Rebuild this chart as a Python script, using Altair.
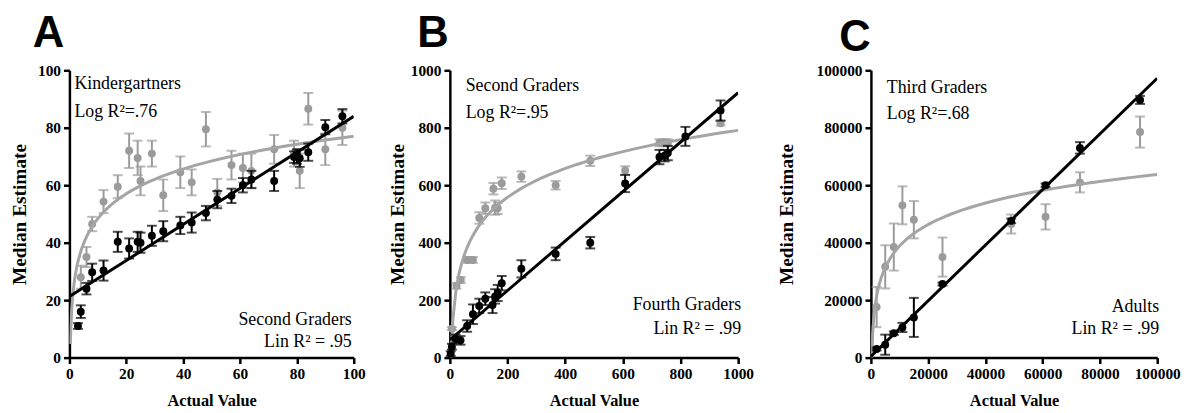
import altair as alt
import pandas as pd

# ---------------- Panel A (0-100) ----------------
a_gx = [4, 6, 8, 12, 17, 21, 24, 25, 29, 33, 39, 43, 48, 52, 57, 61, 64, 72, 79, 81, 84, 90, 96]
a_gy = [28, 35, 46.5, 54.3, 59.5, 72, 69.5, 61.5, 71, 56.5, 64.5, 61, 79.5, 57.5, 67, 66, 65, 72.5, 71, 65, 86.6, 72.5, 80]
a_ge = [4, 3.5, 2.5, 4, 4, 6, 6, 5, 4.5, 5.5, 5.5, 4.5, 6, 4.7, 5, 5, 6, 5, 4.5, 6, 5.5, 5.5, 6]
a_bx = [3, 4, 6, 8, 12, 17, 21, 24, 25, 29, 33, 39, 43, 48, 52, 57, 61, 64, 72, 79, 80, 81, 84, 90, 96]
a_by = [11, 16, 24, 29.7, 30.3, 40.3, 38, 40.3, 40, 42.4, 44, 46, 47, 50.3, 55, 56.3, 60, 62, 61.5, 69.8, 70, 69.4, 71.5, 80.2, 84]
a_be = [1, 2.2, 2, 3, 3.5, 3.5, 3.5, 3.5, 3.5, 3.5, 3.5, 3, 3.5, 2.5, 3, 2.5, 2.5, 3, 3.5, 2, 2.5, 3, 3, 2.5, 2.5]

# ---------------- Panel B (0-1000) ----------------
b_gx = [7, 23, 38, 60, 80, 102, 123, 151, 157, 166, 180, 248, 367, 487, 608, 727, 745, 756, 939]
b_gy = [101, 250, 270, 340, 340, 486, 520, 588, 522, 520, 607, 630, 600, 685, 651, 748, 748, 748, 816]
b_ge = [5, 10, 10, 10, 10, 20, 20, 20, 25, 20, 20, 18, 15, 18, 15, 12, 12, 12, 8]
b_bx = [3, 7, 20, 37, 60, 80, 102, 123, 148, 157, 166, 180, 248, 367, 487, 608, 727, 745, 756, 817, 939]
b_by = [14, 38, 65, 60, 110, 151, 180, 205, 183, 213, 225, 259, 309, 361, 400, 606, 698, 703, 712, 770, 860]
b_be = [8, 10, 15, 15, 20, 34, 25, 22, 28, 25, 28, 25, 30, 22, 20, 30, 25, 20, 25, 33, 35]

# ---------------- Panel C (0-100000) ----------------
c_gx = [2000, 5000, 8000, 11000, 15000, 25000, 49000, 61000, 73000, 94000]
c_gy = [17600, 31600, 38500, 53000, 48000, 35000, 46500, 49000, 61000, 78500]
c_ge = [7000, 7500, 8200, 6600, 6500, 6800, 3300, 4400, 3500, 5400]
c_bx = [2000, 5000, 8000, 11000, 15000, 25000, 49000, 61000, 73000, 94000]
c_by = [3000, 4500, 8500, 10500, 14000, 25600, 47600, 60000, 73000, 89700]
c_be = [500, 3500, 600, 1600, 6800, 500, 800, 600, 2000, 1400]

GRAY = "#9b9b9b"
GRAY_LINE = "#a5a5a5"
SERIF = "Liberation Serif"
H = 290


def frame(xs, ys, es):
    return pd.DataFrame({"x": xs, "y": ys,
                         "lo": [y - e for y, e in zip(ys, es)],
                         "hi": [y + e for y, e in zip(ys, es)]})


def txt(s, x, y, align="left", size=18, font=SERIF, weight="normal"):
    return alt.Chart(pd.DataFrame({"t": [s]})).mark_text(
        align=align, baseline="alphabetic", fontSize=size, font=font,
        fontWeight=weight, color="black"
    ).encode(x=alt.value(x), y=alt.value(y), text="t:N")


def panel(letter, gx, gy, ge, bx, by, be, dmax, step, ext_log, w,
          top1, top2, bot1, bot2, tdx, letter_dx, letter_dy, title_pad, cap):
    h = H
    xs = alt.Scale(domain=[0, dmax], nice=False)
    ys = alt.Scale(domain=[0, dmax], nice=False)
    vals = list(range(0, dmax + 1, step))
    xax = alt.Axis(values=vals, format="d", title="Actual Value", labelFlush=False,
                   labelOverlap=False, titlePadding=11, titleFontSize=16.5)
    yax = alt.Axis(values=vals, format="d", title="Median Estimate", labelOverlap=False,
                   titlePadding=title_pad, titleFontSize=19.5)
    X = alt.X("x:Q", scale=xs, axis=xax)
    Y = alt.Y("y:Q", scale=ys, axis=yax)
    g = frame(gx, gy, ge)
    b = frame(bx, by, be)

    def err(df, color):
        return alt.Chart(df).mark_errorbar(
            ticks={"size": cap, "thickness": 2, "color": color},
            rule={"strokeWidth": 2, "color": color}, color=color
        ).encode(x=X, y=alt.Y("lo:Q", scale=ys, axis=yax), y2="hi:Q")

    def pts(df, color):
        return alt.Chart(df).mark_circle(size=64, opacity=1, color=color).encode(x=X, y=Y)

    gline = alt.Chart(g).transform_regression(
        "x", "y", method="log", extent=ext_log
    ).mark_line(color=GRAY_LINE, strokeWidth=3, clip=True).encode(x=X, y=Y)
    bline = alt.Chart(b).transform_regression(
        "x", "y", method="linear", extent=[0, dmax]
    ).mark_line(color="black", strokeWidth=3, clip=True).encode(x=X, y=Y)

    layers = [
        err(g, GRAY), pts(g, GRAY), gline,
        err(b, "black"), pts(b, "black"), bline,
        txt(top1[0], tdx, top1[1]), txt(top2[0], tdx, top2[1]),
        txt(bot1[0], w + bot1[2], h + bot1[1], align="right"),
        txt(bot2[0], w + bot2[2], h + bot2[1], align="right"),
        txt(letter, letter_dx, letter_dy, size=44, font="Liberation Sans", weight="bold"),
    ]
    return alt.layer(*layers).properties(width=w, height=h)


pA = panel("A", a_gx, a_gy, a_ge, a_bx, a_by, a_be, 100, 20, [0.3, 100], 287,
           ("Kindergartners", 19), ("Log R²=.76", 47),
           ("Second Graders", -33, -2), ("Lin R² = .95", -11, -2),
           5, -37, -24, 8, 10)
pB = panel("B", b_gx, b_gy, b_ge, b_bx, b_by, b_be, 1000, 200, [1, 1000], 291,
           ("Second Graders", 21), ("Log R²=.95", 48),
           ("Fourth Graders", -48, 3), ("Lin R² = .99", -24, 3),
           16, -33, -24, 3, 10)
pC = panel("C", c_gx, c_gy, c_ge, c_bx, c_by, c_be, 100000, 20000, [100, 100000], 289,
           ("Third Graders", 23), ("Log R²=.68", 49),
           ("Adults", -46, 2), ("Lin R² = .99", -24, 2),
           16, -32, -19, 20, 10)

chart = alt.hconcat(pA, pB, pC, spacing=22).properties(
    padding={"left": 1, "top": 2, "right": 0, "bottom": 0}
).configure_view(stroke=None).configure_axis(
    grid=False, domainColor="black", domainWidth=2.5, tickColor="black", tickWidth=2.5,
    tickSize=6, labelFont=SERIF, labelFontWeight="bold", labelFontSize=15.5,
    labelColor="black", labelPadding=3, titleFont=SERIF, titleFontWeight="bold",
    titleColor="black"
)

chart.save("out.html", embed_options={"renderer": "svg", "actions": False})
